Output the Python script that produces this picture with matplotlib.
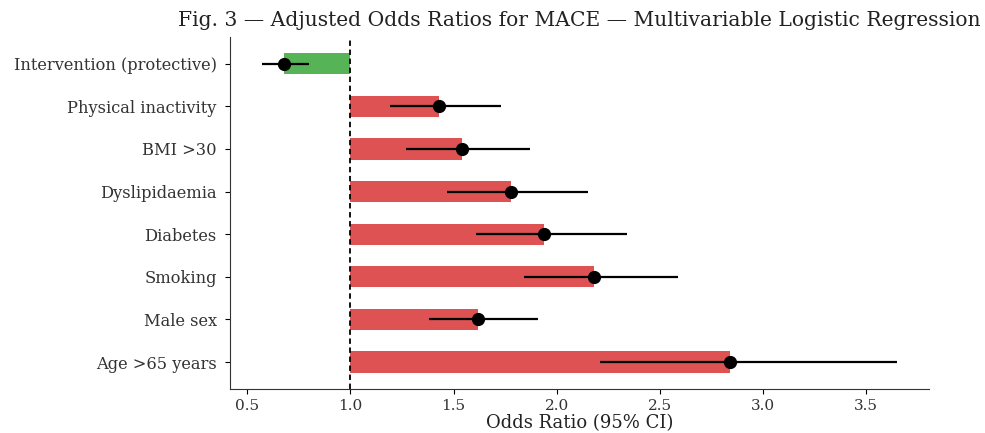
import matplotlib
matplotlib.use("Agg")
import matplotlib.pyplot as plt
import numpy as np

labels = ["Intervention (protective)", "Physical inactivity", "BMI >30", "Dyslipidaemia",
          "Diabetes", "Smoking", "Male sex", "Age >65 years"]
odds = [0.68, 1.43, 1.54, 1.78, 1.94, 2.18, 1.62, 2.84]
ci_low = [0.57, 1.19, 1.27, 1.47, 1.61, 1.84, 1.38, 2.21]
ci_high = [0.80, 1.73, 1.87, 2.15, 2.34, 2.59, 1.91, 3.65]

plt.rcParams['font.family'] = ['DejaVu Serif']
fig = plt.figure(figsize=(9.85, 4.33), dpi=100)
ax = fig.add_axes([0.2335, 0.1023, 0.7095, 0.8122])

y = np.arange(len(labels))[::-1]
odds_a = np.array(odds)
colors = ["#2ca02c" if o < 1 else "#d62728" for o in odds]
ax.barh(y, odds_a - 1.0, left=1.0, height=0.5, color=colors, alpha=0.8)
ax.errorbar(odds_a, y, xerr=[odds_a - np.array(ci_low), np.array(ci_high) - odds_a],
            fmt='o', color='black', ecolor='black', elinewidth=1.6, markersize=8.5, capsize=0)
ax.axvline(1.0, color='black', linestyle=(0, (3, 2)), linewidth=1.3)

ax.set_yticks(y)
ax.set_yticklabels(labels, fontsize=11.7, color='#333333')
ax.tick_params(axis='x', labelsize=11, labelcolor='#333333', pad=4)
ax.tick_params(axis='y', pad=6)
ax.set_xlabel("Odds Ratio (95% CI)", fontsize=13.0, color='#222222', labelpad=1)
ax.set_title("Fig. 3 — Adjusted Odds Ratios for MACE — Multivariable Logistic Regression",
             fontsize=14.6, color='#222222', pad=8)
ax.spines['top'].set_visible(False)
ax.spines['right'].set_visible(False)
for s in ['left', 'bottom']:
    ax.spines[s].set_color('#333333')

fig.savefig("out.png", dpi=100)
